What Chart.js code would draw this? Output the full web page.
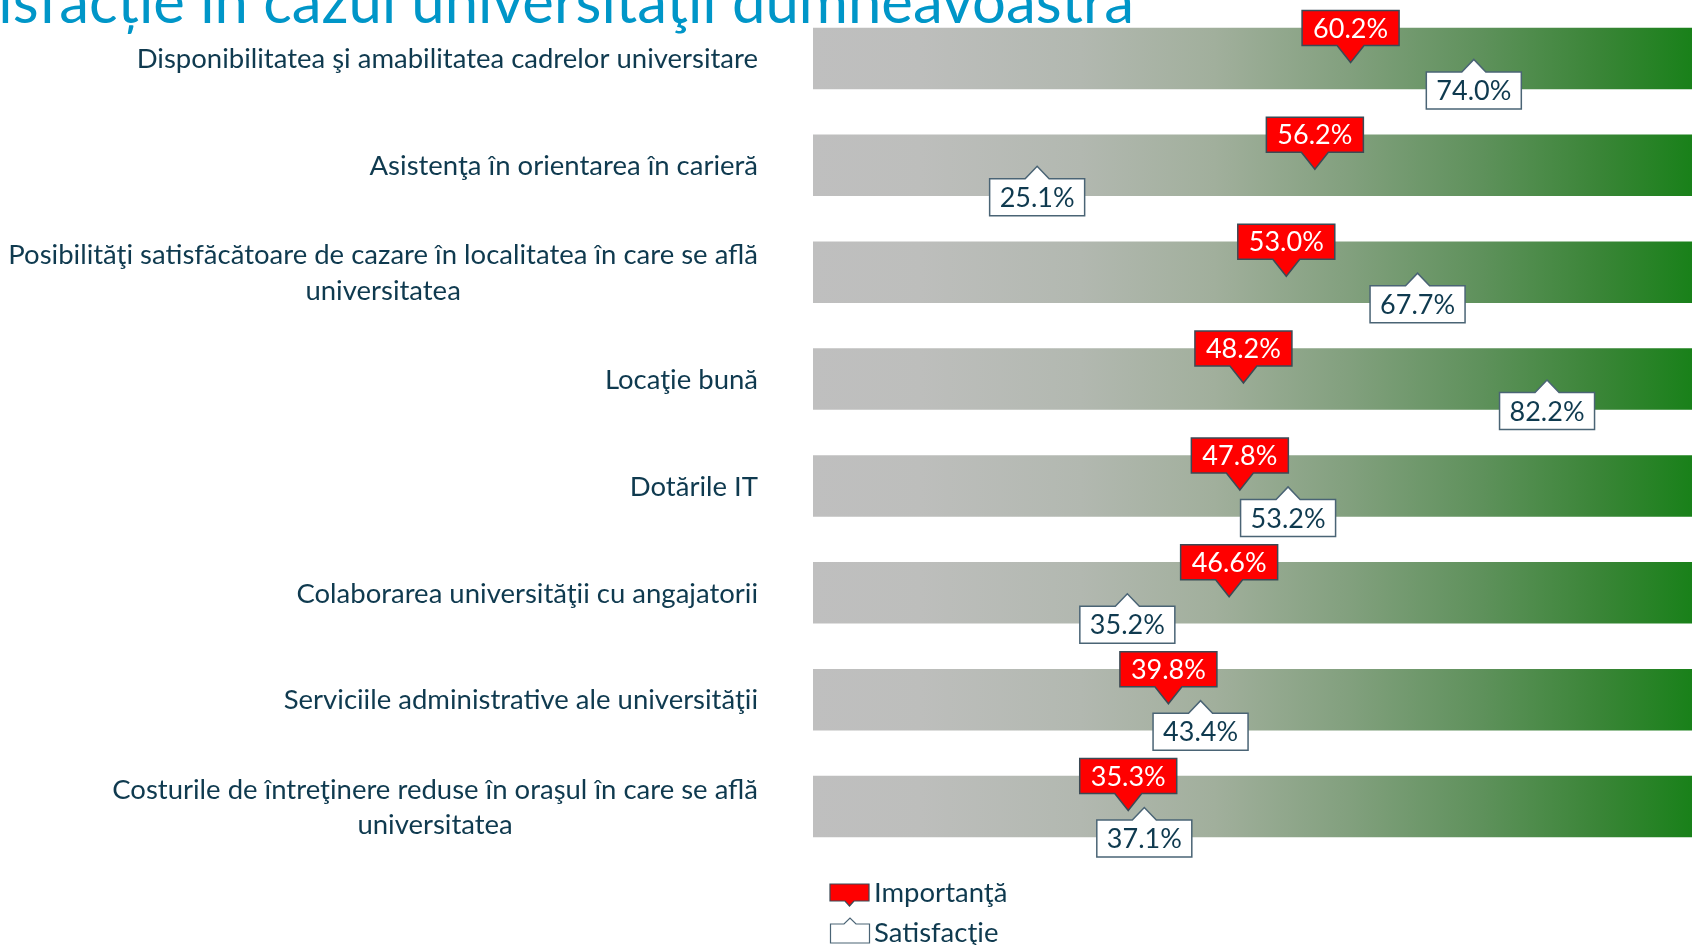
<!DOCTYPE html>
<html><head><meta charset="utf-8">
<script src="https://cdn.jsdelivr.net/npm/chart.js@4.4.1/dist/chart.umd.min.js"></script>
<style>
html,body{margin:0;padding:0;overflow:hidden;background:#ffffff;}
#wrap{position:relative;width:1706px;height:945px;}
</style></head><body>
<div id="wrap"><canvas id="c"></canvas></div>
<script>
// ---- data ----
const categories = [
  "Disponibilitatea şi amabilitatea cadrelor universitare",
  "Asistenţa în orientarea în carieră",
  ["Posibilităţi satisfăcătoare de cazare în localitatea în care se află", "universitatea"],
  "Locaţie bună",
  "Dotările IT",
  "Colaborarea universităţii cu angajatorii",
  "Serviciile administrative ale universităţii",
  ["Costurile de întreţinere reduse în oraşul în care se află", "universitatea"]
];
const importance   = [60.2, 56.2, 53.0, 48.2, 47.8, 46.6, 39.8, 35.3];
const satisfaction = [74.0, 25.1, 67.7, 82.2, 53.2, 35.2, 43.4, 37.1];
const scaleMax     = [100, 100, 100, 100, 100, 100, 100, 100];
const seriesNames  = ["Importanţă", "Satisfacţie"];
const titleText    = "isfacție în cazul universităţii dumneavoastră";

// ---- styles ----
const FONT = 'Lato, "Open Sans", sans-serif';
const TEXT_COLOR = '#0f3a4f';
const TITLE_COLOR = '#0096c8';
const RED = '#ff0000';
const RED_BORDER = '#3b4a55';
const WHITE_BORDER = '#4a6475';
const FS_LABEL = 27.5;
const FS_BOX = 27;

function fmt(v){ return v.toFixed(1) + '%'; }

function redShape(ctx, x, tipY, w, h, gap, hb){
  const boxB = tipY - gap, boxT = boxB - h;
  ctx.beginPath();
  ctx.moveTo(x - w/2, boxT);
  ctx.lineTo(x + w/2, boxT);
  ctx.lineTo(x + w/2, boxB);
  ctx.lineTo(x + hb, boxB);
  ctx.lineTo(x, tipY);
  ctx.lineTo(x - hb, boxB);
  ctx.lineTo(x - w/2, boxB);
  ctx.closePath();
  return {boxT, boxB};
}
function whiteShape(ctx, x, tipY, w, h, gap, hb){
  const boxT = tipY + gap, boxB = boxT + h;
  ctx.beginPath();
  ctx.moveTo(x - w/2, boxT);
  ctx.lineTo(x - hb, boxT);
  ctx.lineTo(x, tipY);
  ctx.lineTo(x + hb, boxT);
  ctx.lineTo(x + w/2, boxT);
  ctx.lineTo(x + w/2, boxB);
  ctx.lineTo(x - w/2, boxB);
  ctx.closePath();
  return {boxT, boxB};
}

const calloutPlugin = {
  id: 'callouts',
  afterDatasetsDraw(chart){
    const ctx = chart.ctx;
    ctx.save();
    ctx.font = FS_BOX + 'px ' + FONT;
    ctx.textAlign = 'center';
    ctx.textBaseline = 'alphabetic';
    ctx.lineWidth = 1.5;
    const capH = 0.717 * FS_BOX;
    // importance (red, above)
    chart.getDatasetMeta(1).data.forEach((pt, i) => {
      const r = redShape(ctx, pt.x, pt.y + 4, 97, 35, 17, 13.5);
      ctx.fillStyle = RED; ctx.fill();
      ctx.strokeStyle = RED_BORDER; ctx.stroke();
      ctx.fillStyle = '#ffffff';
      ctx.fillText(fmt(importance[i]), pt.x, (r.boxT + r.boxB)/2 + capH/2);
    });
    // satisfaction (white, below)
    chart.getDatasetMeta(2).data.forEach((pt, i) => {
      const r = whiteShape(ctx, pt.x, pt.y + 1, 95, 37, 12.5, 12);
      ctx.fillStyle = '#ffffff'; ctx.fill();
      ctx.strokeStyle = WHITE_BORDER; ctx.stroke();
      ctx.fillStyle = TEXT_COLOR;
      ctx.fillText(fmt(satisfaction[i]), pt.x, (r.boxT + r.boxB)/2 + capH/2);
    });
    ctx.restore();
  }
};

const labelPlugin = {
  id: 'ylabels',
  afterDraw(chart){
    const ctx = chart.ctx, ys = chart.scales.y, area = chart.chartArea;
    ctx.save();
    ctx.font = FS_LABEL + 'px ' + FONT;
    ctx.fillStyle = TEXT_COLOR;
    ctx.textBaseline = 'alphabetic';
    const right = area.left - 55;
    const lineH = 35.6;
    categories.forEach((lab, i) => {
      const cy = ys.getPixelForTick(i);
      const lines = Array.isArray(lab) ? lab : [lab];
      const maxW = Math.max(...lines.map(l => ctx.measureText(l).width));
      const cx = right - maxW/2;
      ctx.textAlign = lines.length > 1 ? 'center' : 'right';
      lines.forEach((l, k) => {
        const ly = cy + (k - (lines.length - 1)/2) * lineH + 9.8;
        ctx.fillText(l, lines.length > 1 ? cx : right, ly);
      });
    });
    // title (partially visible)
    ctx.font = '59.8px ' + FONT;
    ctx.fillStyle = TITLE_COLOR;
    ctx.textAlign = 'right';
    ctx.fillText(titleText, 1134, 23);
    // legend
    const lx = area.left + 17;
    const ly = area.bottom + 2;
    ctx.lineWidth = 1.2;
    redShape(ctx, lx + 19.5, ly + 44, 39, 17, 5, 4.5);
    ctx.fillStyle = RED; ctx.fill();
    ctx.strokeStyle = RED_BORDER; ctx.stroke();
    whiteShape(ctx, lx + 20, ly + 56, 39, 19, 6, 6);
    ctx.fillStyle = '#ffffff'; ctx.fill();
    ctx.strokeStyle = WHITE_BORDER; ctx.stroke();
    ctx.font = FS_LABEL + 'px ' + FONT;
    ctx.fillStyle = TEXT_COLOR;
    ctx.textAlign = 'left';
    ctx.fillText(seriesNames[0], lx + 44, ly + 40);
    ctx.fillText(seriesNames[1], lx + 44, ly + 80);
    ctx.restore();
  }
};

function barGradient(context){
  const chart = context.chart;
  const a = chart.chartArea;
  if (!a) return '#bfbfbf';
  const g = chart.ctx.createLinearGradient(a.left, 0, a.right, 0);
  g.addColorStop(0.00, '#bfbfbf');
  g.addColorStop(0.12, '#bdbebc');
  g.addColorStop(0.30, '#b2b8b0');
  g.addColorStop(0.45, '#a1af9c');
  g.addColorStop(0.60, '#82a07e');
  g.addColorStop(0.75, '#5e915b');
  g.addColorStop(0.88, '#3a8537');
  g.addColorStop(1.00, '#148015');
  return g;
}

new Chart(document.getElementById('c'), {
  type: 'bar',
  data: {
    labels: categories,
    datasets: [
      { label: 'scale', data: scaleMax, backgroundColor: barGradient, borderWidth: 0,
        barPercentage: 0.576, categoryPercentage: 1.0, indexAxis: 'y', order: 3 },
      { type: 'line', label: seriesNames[0], data: importance, showLine: false,
        pointRadius: 0, indexAxis: 'y', order: 1 },
      { type: 'line', label: seriesNames[1], data: satisfaction, showLine: false,
        pointRadius: 0, indexAxis: 'y', order: 2 }
    ]
  },
  options: {
    indexAxis: 'y',
    responsive: true,
    maintainAspectRatio: false,
    animation: false,
    layout: { padding: { left: 813, right: 0, top: 5, bottom: 85 } },
    scales: {
      x: { type: 'linear', min: 0, max: 100, display: false },
      y: { type: 'category', display: false, offset: true, grid: { display: false } }
    },
    plugins: {
      legend: { display: false },
      tooltip: { enabled: false },
      title: { display: false }
    }
  },
  plugins: [calloutPlugin, labelPlugin]
});
</script>
</body></html>
